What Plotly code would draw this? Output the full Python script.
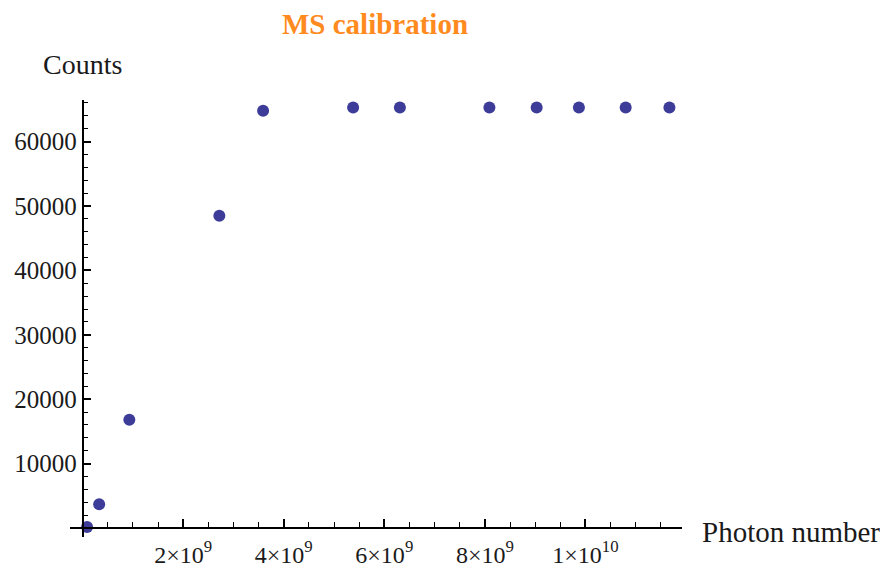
import plotly.graph_objects as go

# Data (photon number, counts)
photon_number = [0.09e9, 0.33e9, 0.93e9, 2.72e9, 3.59e9, 5.38e9, 6.31e9,
                 8.09e9, 9.03e9, 9.87e9, 10.80e9, 11.67e9]
counts = [150, 3680, 16800, 48500, 64800, 65300, 65300,
          65300, 65300, 65300, 65300, 65300]

x_tickvals = [2e9, 4e9, 6e9, 8e9, 1e10]
x_ticktext = ["2×10<sup>9</sup>", "4×10<sup>9</sup>", "6×10<sup>9</sup>",
              "8×10<sup>9</sup>", "1×10<sup>10</sup>"]
y_tickvals = [10000, 20000, 30000, 40000, 50000, 60000]
y_ticktext = ["10000", "20000", "30000", "40000", "50000", "60000"]

FONT = "Liberation Serif, Times New Roman, serif"
TXT = "#1a1a1a"

x_range = [-0.25e9, 11.92e9]
y_range = [-1400, 66460]

# page body has an 8px margin; compensate
OFF = 8
L, T, PW, PH = 70 - OFF, 100 - OFF, 612, 437

fig = go.Figure()
fig.add_trace(go.Scatter(
    x=photon_number, y=counts, mode="markers",
    marker=dict(size=12, color="rgb(61,61,153)"),
    cliponaxis=False, showlegend=False,
))

xpos = (0 - y_range[0]) / (y_range[1] - y_range[0])
ypos = (0 - x_range[0]) / (x_range[1] - x_range[0])

fig.update_layout(
    width=888, height=580,
    margin=dict(l=L, r=888 - L - PW, t=T, b=580 - T - PH, autoexpand=False),
    paper_bgcolor="white", plot_bgcolor="white",
    font=dict(family=FONT, size=25, color=TXT),
    title=dict(text="<b>MS calibration</b>", x=(375 - OFF)/888, xanchor="center",
               y=1-(24 - OFF)/580, yanchor="middle",
               font=dict(family=FONT, size=29, color="#FF8A1E")),
    xaxis=dict(range=x_range, anchor="free", position=xpos,
               showgrid=False, zeroline=False, showline=True,
               linecolor="black", linewidth=1.5,
               ticks="inside", ticklen=8, tickwidth=1.5, tickcolor="black",
               tickvals=x_tickvals, ticktext=x_ticktext,
               ticklabelstandoff=5,
               tickfont=dict(family=FONT, size=24, color=TXT),
               minor=dict(ticks="inside", ticklen=5, tickwidth=1.2,
                          tickcolor="black", dtick=0.5e9, tick0=0,
                          showgrid=False)),
    yaxis=dict(range=y_range, anchor="free", position=ypos,
               showgrid=False, zeroline=False, showline=True,
               linecolor="black", linewidth=1.5,
               ticks="inside", ticklen=8, tickwidth=1.5, tickcolor="black",
               tickvals=y_tickvals, ticktext=y_ticktext,
               tickfont=dict(family=FONT, size=25, color=TXT),
               minor=dict(ticks="inside", ticklen=5, tickwidth=1.2,
                          tickcolor="black", dtick=2000, tick0=0,
                          showgrid=False)),
    annotations=[
        dict(text="Counts", xref="paper", yref="paper",
             x=(82 - 70)/PW, y=(537 - 65)/PH, xanchor="center", yanchor="middle",
             showarrow=False, font=dict(family=FONT, size=28, color=TXT)),
        dict(text="Photon number", xref="paper", yref="paper",
             x=(700 - 70)/PW, y=(537 - 532)/PH, xanchor="left", yanchor="middle",
             showarrow=False, font=dict(family=FONT, size=29, color=TXT)),
    ],
)

fig.write_html("out.html")
